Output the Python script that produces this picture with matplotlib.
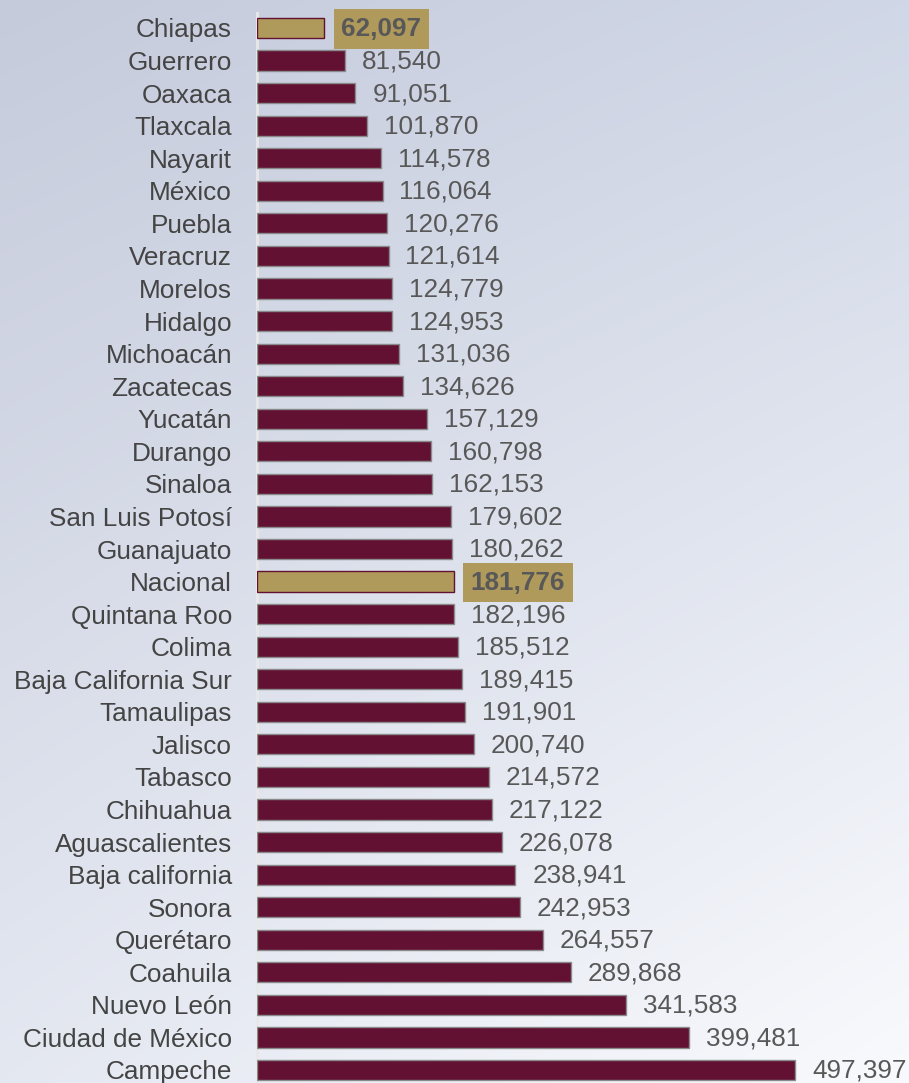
import numpy as np
import matplotlib
matplotlib.use("Agg")
import matplotlib.pyplot as plt
from matplotlib.colors import to_rgb

states = ["Chiapas", "Guerrero", "Oaxaca", "Tlaxcala", "Nayarit", "México", "Puebla",
          "Veracruz", "Morelos", "Hidalgo", "Michoacán", "Zacatecas", "Yucatán", "Durango",
          "Sinaloa", "San Luis Potosí", "Guanajuato", "Nacional", "Quintana Roo", "Colima",
          "Baja California Sur", "Tamaulipas", "Jalisco", "Tabasco", "Chihuahua",
          "Aguascalientes", "Baja california", "Sonora", "Querétaro", "Coahuila",
          "Nuevo León", "Ciudad de México", "Campeche"]
values = [62097, 81540, 91051, 101870, 114578, 116064, 120276, 121614, 124779, 124953,
          131036, 134626, 157129, 160798, 162153, 179602, 180262, 181776, 182196, 185512,
          189415, 191901, 200740, 214572, 217122, 226078, 238941, 242953, 264557, 289868,
          341583, 399481, 497397]
highlight = ["Chiapas", "Nacional"]

plt.rcParams['font.family'] = ['Liberation Sans', 'DejaVu Sans']

W, H = 909, 1083
fig = plt.figure(figsize=(W / 100, H / 100), dpi=100)

# background gradient
bg = fig.add_axes([0, 0, 1, 1])
tl = np.array(to_rgb("#c6cbdc"))
tr = np.array(to_rgb("#d0d7e6"))
bl = np.array(to_rgb("#e4e8f1"))
br = np.array(to_rgb("#f9fafd"))
yy, xx = np.mgrid[0:1:200j, 0:1:200j]
img = (tl[None, None, :] * ((1 - xx) * (1 - yy))[..., None]
       + tr[None, None, :] * (xx * (1 - yy))[..., None]
       + bl[None, None, :] * ((1 - xx) * yy)[..., None]
       + br[None, None, :] * (xx * yy)[..., None])
bg.imshow(img, aspect="auto", extent=[0, 1, 1, 0], interpolation="bilinear")
bg.set_xlim(0, 1)
bg.set_ylim(1, 0)
bg.axis("off")

x0 = 257 / W
ax = fig.add_axes([x0, 0, 1 - x0, 1])
ax.patch.set_alpha(0)
n = len(states)
ypos = np.arange(n)
row0, rowN = 28, 1070
sp = (rowN - row0) / (n - 1)
ax.set_ylim((H - row0) / sp, -row0 / sp)
xmax = (W - 257) / (795 - 257) * max(values)
ax.set_xlim(0, xmax)

FS = 18.8
maroon = "#621132"
gold = "#b09a5b"
for i, (s, v) in enumerate(zip(states, values)):
    if s in highlight:
        ax.barh(i, v, height=0.62, color=gold, edgecolor=maroon, linewidth=1.0, zorder=3)
        ax.text(v + xmax * 0.026, i + 0.03, f"{v:,}", va="center", ha="left", fontsize=FS,
                fontweight="bold", color="#585858", zorder=4,
                bbox=dict(boxstyle="square,pad=0.29", fc=gold, ec="none"))
    else:
        ax.barh(i, v, height=0.62, color=maroon, edgecolor="#8a8a8a", linewidth=1.0, zorder=3)
        ax.text(v + xmax * 0.026, i + 0.03, f"{v:,}", va="center", ha="left", fontsize=FS,
                color="#585858", zorder=4)

ax.set_yticks(ypos)
ax.set_yticklabels(states, fontsize=FS, color="#444444")
ax.tick_params(axis="y", length=0, pad=18)
ax.set_xticks([])
for sp_ in ax.spines.values():
    sp_.set_visible(False)
ax.plot([0, 0], [-0.47, n + 1], color="#e8e8e8", lw=2, zorder=2, clip_on=False)

fig.savefig("out.png", dpi=100)
